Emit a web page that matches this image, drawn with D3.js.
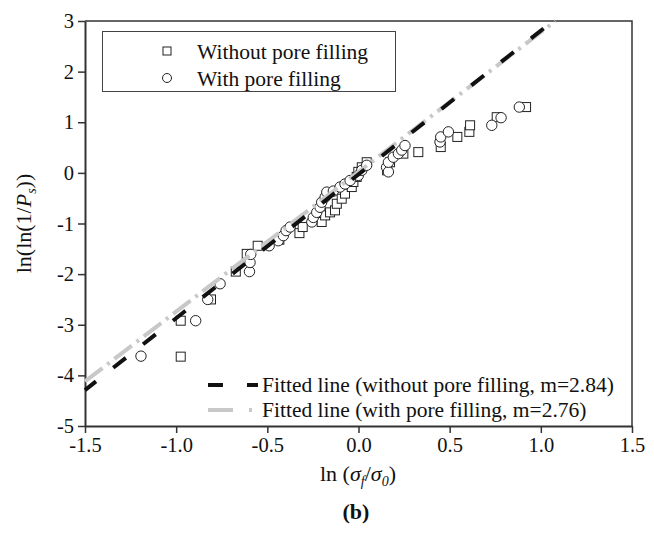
<!DOCTYPE html>
<html>
<head>
<meta charset="utf-8">
<script src="https://cdn.jsdelivr.net/npm/d3@7"></script>
<style>
  body { margin: 0; background: #fff; }
  svg { display: block; font-family: "Liberation Serif", "Times New Roman", serif; }
</style>
</head>
<body>
<svg id="chart"></svg>
<script>
// data
const withoutX = [-0.975, -0.975, -0.809, -0.673, -0.613, -0.553, -0.434, -0.324, -0.306, -0.202,
  -0.183, -0.156, -0.129, -0.119, -0.092, -0.074, -0.037, -0.028, -0.010, -0.001,
  0.018, 0.045, 0.157, 0.173, 0.246, 0.328, 0.451, 0.542, 0.608, 0.612, 0.758, 0.919];
const withoutY = [-3.63, -2.92, -2.50, -1.95, -1.60, -1.44, -1.32, -1.19, -1.07, -0.97,
  -0.84, -0.78, -0.74, -0.61, -0.51, -0.41, -0.28, -0.18, -0.08, 0.02,
  0.11, 0.21, 0.05, 0.21, 0.38, 0.41, 0.51, 0.71, 0.81, 0.94, 1.10, 1.30];

const withX = [-1.193, -0.893, -0.827, -0.759, -0.598, -0.595, -0.591, -0.490, -0.440, -0.412,
  -0.397, -0.375, -0.256, -0.248, -0.229, -0.211, -0.202, -0.183, -0.174, -0.138,
  -0.101, -0.074, -0.046, -0.001, 0.018, 0.045, 0.154, 0.164, 0.164, 0.191,
  0.219, 0.237, 0.255, 0.447, 0.451, 0.493, 0.731, 0.782, 0.882];
const withY = [-3.62, -2.92, -2.50, -2.19, -1.95, -1.77, -1.61, -1.44, -1.34, -1.24,
  -1.14, -1.07, -0.97, -0.88, -0.78, -0.68, -0.58, -0.48, -0.38, -0.36,
  -0.28, -0.22, -0.15, -0.05, 0.05, 0.15, 0.11, 0.02, 0.21, 0.31,
  0.38, 0.45, 0.54, 0.61, 0.71, 0.81, 0.94, 1.09, 1.30];

// fitted line end points
const fitWithoutX = [-1.5, 1.067];
const fitWithoutY = [-4.29, 3.0];
const fitWithX = [-1.5, 1.08];
const fitWithY = [-4.12, 3.0];

const xTicks = [-1.5, -1.0, -0.5, 0.0, 0.5, 1.0, 1.5];
const yTicks = [-5, -4, -3, -2, -1, 0, 1, 2, 3];
const legendTop = ["Without pore filling", "With pore filling"];
const legendFit = ["Fitted line (without pore filling, m=2.84)", "Fitted line (with pore filling, m=2.76)"];

const W = 654, H = 536;
const margin = { top: 21, right: 22, bottom: 110, left: 85 };

const svg = d3.select("#chart").attr("width", W).attr("height", H);
svg.append("rect").attr("width", W).attr("height", H).attr("fill", "#fff");

const x = d3.scaleLinear().domain([-1.5, 1.5]).range([margin.left, W - margin.right]);
const y = d3.scaleLinear().domain([-5, 3]).range([H - margin.bottom, margin.top]);

const axisColor = "#333";

// frame (top and right)
svg.append("path")
  .attr("d", `M${x(-1.5)},${y(3)}H${x(1.5)}V${y(-5)}`)
  .attr("fill", "none").attr("stroke", axisColor).attr("stroke-width", 1.5);

// axes
const xAxis = svg.append("g")
  .attr("transform", `translate(0,${y(-5)})`)
  .call(d3.axisBottom(x).tickValues(xTicks).tickSize(7).tickSizeOuter(0).tickPadding(4)
    .tickFormat(d => d.toFixed(1)));
const yAxis = svg.append("g")
  .attr("transform", `translate(${x(-1.5)},0)`)
  .call(d3.axisLeft(y).tickValues(yTicks).tickSize(7).tickSizeOuter(0).tickPadding(4)
    .tickFormat(d => String(d)));

[xAxis, yAxis].forEach(g => {
  g.select(".domain").attr("stroke", axisColor).attr("stroke-width", 2);
  g.selectAll(".tick line").attr("stroke", axisColor).attr("stroke-width", 1.5);
  g.selectAll(".tick text").attr("fill", "#111")
    .style("font-family", "Liberation Serif, Times New Roman, serif").style("font-size", "20.5px");
});

// markers
const withoutPts = withoutX.map((v, i) => [v, withoutY[i]]);
const withPts = withX.map((v, i) => [v, withY[i]]);
const sq = 9;

svg.append("g").selectAll("rect")
  .data(withoutPts).enter().append("rect")
  .attr("x", d => x(d[0]) - sq / 2)
  .attr("y", d => y(d[1]) - sq / 2)
  .attr("width", sq).attr("height", sq)
  .attr("fill", "#fff").attr("stroke", "#222").attr("stroke-width", 1);

svg.append("g").selectAll("circle")
  .data(withPts).enter().append("circle")
  .attr("cx", d => x(d[0]))
  .attr("cy", d => y(d[1]))
  .attr("r", 5.2)
  .attr("fill", "#fff").attr("stroke", "#222").attr("stroke-width", 1);

// fitted lines
const line = d3.line().x(d => x(d[0])).y(d => y(d[1]));
svg.append("path")
  .datum(fitWithX.map((v, i) => [v, fitWithY[i]]))
  .attr("d", line)
  .attr("fill", "none").attr("stroke", "#c8c8c8").attr("stroke-width", 4)
  .attr("stroke-dasharray", "22,6,3,6");
svg.append("path")
  .datum(fitWithoutX.map((v, i) => [v, fitWithoutY[i]]))
  .attr("d", line)
  .attr("fill", "none").attr("stroke", "#111").attr("stroke-width", 4)
  .attr("stroke-dasharray", "16,22").attr("stroke-dashoffset", 2);

// legend box (top-left)
svg.append("rect")
  .attr("x", 102.5).attr("y", 31.5).attr("width", 293).attr("height", 60)
  .attr("fill", "#fff").attr("stroke", "#444").attr("stroke-width", 1);
svg.append("rect")
  .attr("x", 167 - 4).attr("y", 51 - 4).attr("width", 8).attr("height", 8)
  .attr("fill", "#fff").attr("stroke", "#222");
svg.append("circle")
  .attr("cx", 167).attr("cy", 78).attr("r", 4.5)
  .attr("fill", "#fff").attr("stroke", "#222");
svg.selectAll(".lgTop")
  .data(legendTop).enter().append("text")
  .attr("class", "lgTop")
  .attr("x", 197).attr("y", (d, i) => 51 + i * 27)
  .attr("dy", "0.35em")
  .style("font-size", "21.5px").attr("fill", "#111")
  .text(d => d);

// legend for fitted lines
svg.append("line")
  .attr("x1", 208).attr("x2", 258).attr("y1", 385).attr("y2", 385)
  .attr("stroke", "#111").attr("stroke-width", 4).attr("stroke-dasharray", "15,24,15");
svg.append("line")
  .attr("x1", 208).attr("x2", 258).attr("y1", 410).attr("y2", 410)
  .attr("stroke", "#c8c8c8").attr("stroke-width", 4).attr("stroke-dasharray", "25,16,3,40");
svg.selectAll(".lgFit")
  .data(legendFit).enter().append("text")
  .attr("class", "lgFit")
  .attr("x", 262).attr("y", (d, i) => 384 + i * 25)
  .attr("dy", "0.35em")
  .style("font-size", "21.5px").attr("fill", "#111")
  .text(d => d);

// axis titles
const xt = svg.append("text")
  .attr("x", 358).attr("y", 481)
  .attr("text-anchor", "middle")
  .style("font-size", "22px").attr("fill", "#111");
xt.append("tspan").text("ln (");
xt.append("tspan").style("font-style", "italic").text("σ");
xt.append("tspan").style("font-style", "italic").style("font-size", "14px").attr("dy", 5).text("f");
xt.append("tspan").attr("dy", -5).text("/");
xt.append("tspan").style("font-style", "italic").text("σ");
xt.append("tspan").style("font-style", "italic").style("font-size", "14px").attr("dy", 5).text("0");
xt.append("tspan").attr("dy", -5).text(")");

const yt = svg.append("text")
  .attr("transform", `translate(31,${(y(3) + y(-5)) / 2}) rotate(-90)`)
  .attr("text-anchor", "middle")
  .style("font-size", "22px").attr("fill", "#111");
yt.append("tspan").text("ln(ln(1/");
yt.append("tspan").style("font-style", "italic").text("P");
yt.append("tspan").style("font-style", "italic").style("font-size", "14px").attr("dy", 5).text("s");
yt.append("tspan").attr("dy", -5).text("))");

svg.append("text")
  .attr("x", 356).attr("y", 519)
  .attr("text-anchor", "middle")
  .style("font-size", "22px").style("font-weight", "bold").attr("fill", "#111")
  .text("(b)");
</script>
</body>
</html>
